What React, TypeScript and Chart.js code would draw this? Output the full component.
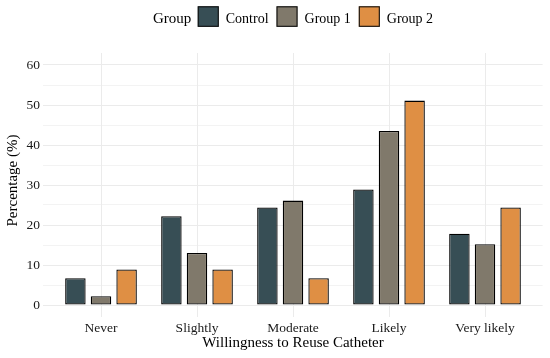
import { useEffect, useRef } from "react";
import { Chart, registerables } from "chart.js";

Chart.register(...registerables);

const categories = ["Never", "Slightly", "Moderate", "Likely", "Very likely"];
const groupNames = ["Control", "Group 1", "Group 2"];
const controlValues = [6.7, 22.2, 24.4, 28.9, 17.8];
const group1Values = [2.2, 13.0, 26.1, 43.5, 15.2];
const group2Values = [8.9, 8.9, 6.7, 51.1, 24.4];
const groupColors = ["#374E55", "#80796B", "#DF8F44"];
const yTickValues = [0, 5, 10, 15, 20, 25, 30, 35, 40, 45, 50, 55, 60];
const legendTitle = "Group";
const xTitle = "Willingness to Reuse Catheter";
const yTitle = "Percentage (%)";

const FONT = '"Liberation Serif", "Times New Roman", serif';
const GRID = "#EBEBEB";

const legendPlugin = {
  id: "ggLegend",
  afterDraw(chart: any) {
    const ctx = chart.ctx as CanvasRenderingContext2D;
    const { left, right, top, bottom } = chart.chartArea;
    ctx.save();
    ctx.textBaseline = "alphabetic";
    ctx.font = `15px ${FONT}`;
    const tw = ctx.measureText(legendTitle).width;
    ctx.font = `14px ${FONT}`;
    const items = chart.data.datasets.map((ds: any) => ({
      label: ds.label as string,
      color: ds.backgroundColor as string,
      w: ctx.measureText(ds.label).width,
    }));
    const keyW = 21;
    const keyH = 20.5;
    const gTitle = 6.5;
    const gKey = 7;
    const gItem = 8;
    let total = tw;
    items.forEach((it: any, i: number) => {
      total += (i === 0 ? gTitle : gItem) + keyW + gKey + it.w;
    });
    let x = (left + right) / 2 - total / 2;
    const baseline = 23;
    const keyTop = 6.3;
    ctx.fillStyle = "#000";
    ctx.font = `15px ${FONT}`;
    ctx.fillText(legendTitle, x, baseline);
    x += tw;
    ctx.font = `14px ${FONT}`;
    items.forEach((it: any, i: number) => {
      x += i === 0 ? gTitle : gItem;
      ctx.fillStyle = it.color;
      ctx.fillRect(x, keyTop, keyW, keyH);
      ctx.strokeStyle = "#111";
      ctx.lineWidth = 1.1;
      ctx.strokeRect(x + 0.5, keyTop + 0.5, keyW - 1, keyH - 1);
      x += keyW + gKey;
      ctx.fillStyle = "#000";
      ctx.fillText(it.label, x, baseline);
      x += it.w;
    });
    ctx.restore();

    // y-axis title
    ctx.save();
    ctx.font = `15px ${FONT}`;
    ctx.fillStyle = "#000";
    ctx.textAlign = "center";
    ctx.textBaseline = "middle";
    ctx.translate(13, (top + bottom) / 2 - 4.5);
    ctx.rotate(-Math.PI / 2);
    ctx.fillText(yTitle, 0, 0);
    ctx.restore();
  },
};

export default function App() {
  const ref = useRef<HTMLCanvasElement | null>(null);

  useEffect(() => {
    document.body.style.margin = "0";
    const seriesValues = [controlValues, group1Values, group2Values];
    const chart = new Chart(ref.current as HTMLCanvasElement, {
      type: "bar",
      data: {
        datasets: groupNames.map((name, gi) => ({
          label: name,
          data: seriesValues[gi].map((v, ci) => ({ x: ci + 1, y: v })),
          backgroundColor: groupColors[gi],
          borderColor: "#000000",
          borderWidth: 1.3,
          borderSkipped: false,
          categoryPercentage: 0.8,
          barPercentage: 0.8,
        })),
      },
      options: {
        animation: false,
        responsive: true,
        maintainAspectRatio: false,
        layout: { padding: { top: 53, right: 7.4, left: 0, bottom: 0 } },
        plugins: {
          legend: { display: false },
          tooltip: { enabled: false },
        },
        scales: {
          x: {
            type: "linear",
            min: 0.4,
            max: 5.6,
            offset: false,
            afterBuildTicks: (scale: any) => {
              scale.ticks = categories.map((_, i) => ({ value: i + 1 }));
            },
            afterFit: (scale: any) => {
              scale.height = 41;
            },
            ticks: {
              padding: 3,
              color: "#1a1a1a",
              font: { family: FONT, size: 13.5 },
              callback: (v: any) => categories[Math.round(Number(v)) - 1] ?? "",
              autoSkip: false,
              maxRotation: 0,
            },
            grid: { color: GRID, lineWidth: 1, drawTicks: false, offset: false },
            border: { display: false },
            title: {
              display: true,
              text: xTitle,
              color: "#000",
              font: { family: FONT, size: 15 },
              padding: { top: 0, bottom: 5.5 },
            },
          },
          y: {
            type: "linear",
            min: -3,
            max: 63,
            afterBuildTicks: (scale: any) => {
              scale.ticks = yTickValues.map((v) => ({ value: v }));
            },
            afterFit: (scale: any) => {
              scale.width = 43.4;
            },
            ticks: {
              padding: 3.5,
              color: "#1a1a1a",
              font: { family: FONT, size: 13.5 },
              callback: (v: any) => (Number(v) % 10 === 0 ? String(v) : ""),
            },
            grid: {
              color: GRID,
              lineWidth: (c: any) => (c.tick && c.tick.value % 10 === 0 ? 1 : 0.6),
              drawTicks: false,
            },
            border: { display: false },
            title: { display: false },
          },
        },
      },
      plugins: [legendPlugin],
    });
    return () => chart.destroy();
  }, []);

  return (
    <div style={{ position: "absolute", left: 0, top: 0, width: 550, height: 358 }}>
      <canvas ref={ref} />
    </div>
  );
}
